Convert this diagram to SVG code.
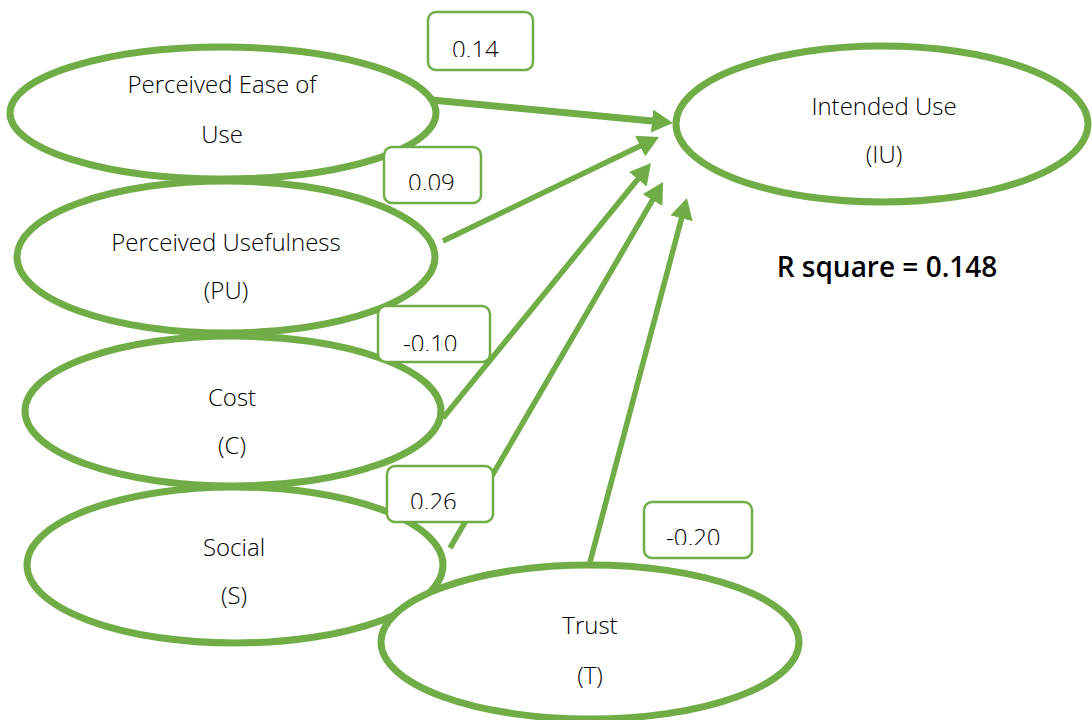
<svg xmlns="http://www.w3.org/2000/svg" width="1092" height="720" viewBox="0 0 1092 720">
  <style>
    .node { fill: #ffffff; stroke: #70AD47; stroke-width: 7; }
    .txt { font-family: "Open Sans", "Liberation Sans", sans-serif; font-size: 24px; font-weight: 300; fill: #000000; text-anchor: middle; }
    .conn { stroke: #70AD47; stroke-width: 5.5; fill: none; marker-end: url(#arrow); }
    .box { fill: #ffffff; stroke: #70AD47; stroke-width: 2.5; }
    .num { font-family: "Open Sans", "Liberation Sans", sans-serif; font-size: 24px; font-weight: 300; fill: #000000; }
    .rsq { font-family: "Open Sans", "Liberation Sans", sans-serif; font-size: 28px; font-weight: 600; fill: #000000; text-anchor: middle; }
  </style>
  <defs>
    <marker id="arrow" markerUnits="userSpaceOnUse" markerWidth="22" markerHeight="24" refX="11" refY="11.5" orient="auto">
      <path d="M0,0 L21,11.5 L0,23 Z" fill="#70AD47"/>
    </marker>
    <clipPath id="c1"><rect x="420" y="0" width="120" height="57"/></clipPath>
    <clipPath id="c2"><rect x="380" y="140" width="110" height="50"/></clipPath>
    <clipPath id="c3"><rect x="370" y="300" width="130" height="51"/></clipPath>
    <clipPath id="c4"><rect x="380" y="460" width="120" height="49"/></clipPath>
    <clipPath id="c5"><rect x="640" y="495" width="120" height="50"/></clipPath>
  </defs>

  <g id="peou">
    <ellipse class="node" cx="223" cy="113" rx="213" ry="66"/>
    <text class="txt" x="222" y="93">Perceived Ease of</text>
    <text class="txt" x="222" y="143">Use</text>
  </g>
  <g id="pu">
    <ellipse class="node" cx="226" cy="257" rx="209" ry="76"/>
    <text class="txt" x="226" y="251">Perceived Usefulness</text>
    <text class="txt" x="226" y="299">(PU)</text>
  </g>
  <g id="cost">
    <ellipse class="node" cx="233" cy="411" rx="208" ry="75"/>
    <text class="txt" x="232" y="406">Cost</text>
    <text class="txt" x="232" y="454">(C)</text>
  </g>
  <g id="social">
    <ellipse class="node" cx="235" cy="565" rx="208" ry="78"/>
    <text class="txt" x="234" y="556">Social</text>
    <text class="txt" x="234" y="604">(S)</text>
  </g>
  <g id="trust">
    <ellipse class="node" cx="590" cy="642" rx="209" ry="77"/>
    <text class="txt" x="590" y="634">Trust</text>
    <text class="txt" x="590" y="684">(T)</text>
  </g>
  <g id="iu">
    <ellipse class="node" cx="882" cy="124" rx="206" ry="78"/>
    <text class="txt" x="884" y="115">Intended Use</text>
    <text class="txt" x="884" y="163">(IU)</text>
  </g>

  <g id="connectors">
    <line class="conn" x1="432" y1="100" x2="663" y2="122" style="stroke-width:7"/>
    <line class="conn" x1="443" y1="241" x2="650" y2="141.3"/>
    <line class="conn" x1="443" y1="418" x2="644.7" y2="170.7"/>
    <line class="conn" x1="450" y1="548" x2="658" y2="190.6"/>
    <line class="conn" x1="590" y1="562" x2="684.4" y2="207.7"/>
  </g>

  <g id="label-peou">
    <rect class="box" x="428" y="12" width="105" height="58" rx="8"/>
    <text class="num" x="452" y="57.8" clip-path="url(#c1)">0.14</text>
  </g>
  <g id="label-pu">
    <rect class="box" x="384" y="147" width="97" height="56" rx="8"/>
    <text class="num" x="408" y="190.8" clip-path="url(#c2)">0.09</text>
  </g>
  <g id="label-cost">
    <rect class="box" x="378" y="306" width="112" height="56" rx="8"/>
    <text class="num" x="403" y="351.8" clip-path="url(#c3)">-0.10</text>
  </g>
  <g id="label-social">
    <rect class="box" x="387" y="466" width="106" height="56" rx="8"/>
    <text class="num" x="410" y="509.8" clip-path="url(#c4)">0.26</text>
  </g>
  <g id="label-trust">
    <rect class="box" x="644" y="502" width="108" height="56" rx="8"/>
    <text class="num" x="666" y="545.8" clip-path="url(#c5)">-0.20</text>
  </g>

  <g id="rsquare">
    <text class="rsq" x="887" y="277">R square = 0.148</text>
  </g>
</svg>
